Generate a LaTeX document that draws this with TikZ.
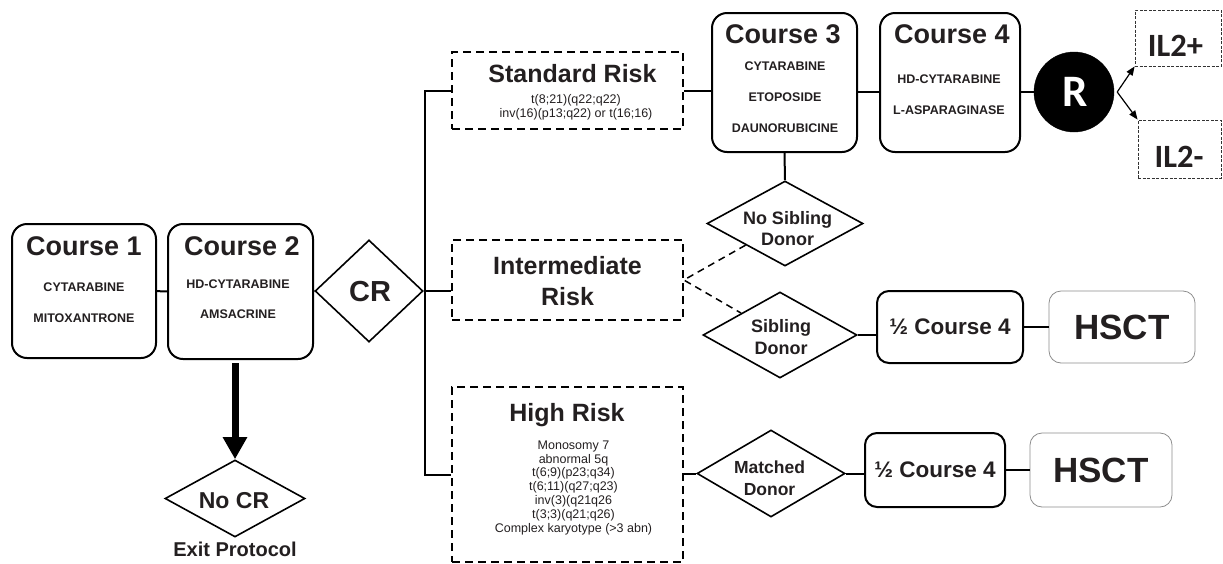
\documentclass[tikz,border=0pt]{standalone}
\usepackage{fontspec}
\setmainfont{Liberation Sans}
\newfontfamily\carfont{Carlito}
\usetikzlibrary{shapes.geometric,arrows.meta}
\definecolor{ink}{RGB}{35,31,32}
\newcommand\myTitle{\fontsize{27}{30}\selectfont\bfseries}
\newcommand\myDrug[1]{\fontsize{12.5}{#1}\selectfont\bfseries}
\newcommand\myRisk[1]{\fontsize{25}{#1}\selectfont\bfseries}
\newcommand\mySmall[1]{\fontsize{12.5}{#1}\selectfont}
\newcommand\myDia[2]{\fontsize{#1}{#2}\selectfont\bfseries}
\tikzset{
  coursebox/.style={draw=black, line width=2pt, rounded corners=15pt, inner sep=0pt},
  smallbox/.style={draw=black, line width=2pt, rounded corners=12pt, inner sep=0pt, text=ink, font=\fontsize{22.5}{26}\selectfont\bfseries},
  hsctbox/.style={draw=black!45, line width=0.8pt, rounded corners=12pt, inner sep=0pt, text=ink, font=\fontsize{35}{40}\selectfont\bfseries},
  riskbox/.style={draw=black, line width=1.7pt, dash pattern=on 8pt off 5pt, inner sep=0pt},
  ilbox/.style={draw=black!80, line width=0.8pt, dash pattern=on 3pt off 1.5pt, inner sep=0pt},
  dia/.style={diamond, draw=black, line width=1.6pt, inner sep=0pt},
  conn/.style={draw=black, line width=2pt},
  dconn/.style={draw=black, line width=1.5pt, dash pattern=on 7pt off 5pt},
  txt/.style={inner sep=0pt, text=ink, anchor=base},
  multi/.style={inner sep=0pt, text=ink, align=center},
}
\begin{document}
\begin{tikzpicture}[x=1pt,y=-1pt]
\useasboundingbox (0,0) rectangle (1223,563);
% boxes
\node[coursebox, minimum width=144pt, minimum height=134pt] (c1) at (84,291) {};
\node[coursebox, minimum width=145pt, minimum height=135pt] (c2) at (240.5,291.5) {};
\node[dia, minimum width=108pt, minimum height=102pt] (cr) at (369,291) {};
\node[riskbox, minimum width=231pt, minimum height=77pt] (sr) at (567.5,90.5) {};
\node[riskbox, minimum width=231pt, minimum height=80pt] (ir) at (567.5,280) {};
\node[riskbox, minimum width=231pt, minimum height=175pt] (hr) at (567.5,474.5) {};
\node[coursebox, minimum width=145pt, minimum height=139pt] (c3) at (784.5,82.5) {};
\node[coursebox, minimum width=140pt, minimum height=139pt] (c4) at (950,82.5) {};
\node[circle, fill=black, draw=black, minimum size=80pt, inner sep=0pt] (r) at (1074,92) {};
\node[ilbox, minimum width=86pt, minimum height=56pt] (il2p) at (1178,38) {};
\node[ilbox, minimum width=83pt, minimum height=58pt] (il2m) at (1179.5,149) {};
\node[dia, minimum width=156pt, minimum height=85pt] (nsd) at (785,223.5) {};
\node[dia, minimum width=154pt, minimum height=86pt] (sd) at (780,335) {};
\node[smallbox, minimum width=146pt, minimum height=72pt] (hc1) at (950,327) {½ Course 4};
\node[hsctbox, minimum width=146pt, minimum height=72pt] (hs1) at (1122,327) {HSCT};
\node[dia, minimum width=148pt, minimum height=87pt] (md) at (771,473.5) {};
\node[smallbox, minimum width=140pt, minimum height=74pt] (hc2) at (935,470) {½ Course 4};
\node[hsctbox, minimum width=142pt, minimum height=74pt] (hs2) at (1101,470) {HSCT};
\node[dia, minimum width=140pt, minimum height=77pt] (nocr) at (235,498.5) {};
% texts
\node[txt, font=\myTitle] (c1t) at (84,255.5) {Course 1};
\node[multi, font=\myDrug{30.6}] (c1d) at (84,302.5) {CYTARABINE\\MITOXANTRONE};
\node[txt, font=\myTitle] (c2t) at (242,255.5) {Course 2};
\node[multi, font=\myDrug{30.7}] (c2d) at (238,299.2) {HD-CYTARABINE\\AMSACRINE};
\node[txt, font=\fontsize{29}{32}\selectfont\bfseries] (crt) at (370,301.7) {CR};
\node[txt, font=\myRisk{30}] (srt) at (572.5,82.3) {Standard Risk};
\node[multi, font=\mySmall{14.6}] (srd) at (576,107.3) {t(8;21)(q22;q22)\\inv(16)(p13;q22) or t(16;16)};
\node[multi, font=\myRisk{31}] (irt) at (567.5,281.3) {Intermediate\\Risk};
\node[txt, font=\myRisk{30}] (hrt) at (567,421.5) {High Risk};
\node[multi, font=\mySmall{13.83}] (hrd) at (573.5,487.8) {Monosomy 7\\abnormal 5q\\t(6;9)(p23;q34)\\t(6;11)(q27;q23)\\inv(3)(q21q26\\t(3;3)(q21;q26)\\Complex karyotype (>3 abn)};
\node[txt, font=\myTitle] (c3t) at (783,43.9) {Course 3};
\node[multi, font=\myDrug{31.25}] (c3d) at (785,97.1) {CYTARABINE\\ETOPOSIDE\\DAUNORUBICINE};
\node[txt, font=\myTitle] (c4t) at (952,43.9) {Course 4};
\node[multi, font=\myDrug{31.3}] (c4d) at (949,94.9) {HD-CYTARABINE\\L-ASPARAGINASE};
\node[txt, text=white, font=\carfont\fontsize{45}{50}\selectfont\bfseries] (rt) at (1075.5,106.7) {R};
\node[txt, font=\carfont\fontsize{32.5}{36}\selectfont\bfseries] (il2pt) at (1175.5,56.7) {IL2+};
\node[txt, font=\carfont\fontsize{32.5}{36}\selectfont\bfseries] (il2mt) at (1179,167) {IL2-};
\node[multi, font=\myDia{18}{20.7}] (nsdt) at (787.5,228.5) {No Sibling\\Donor};
\node[multi, font=\myDia{18}{21.6}] (sdt) at (781,337) {Sibling\\Donor};
\node[multi, font=\myDia{17.5}{22}] (mdt) at (769.5,478.4) {Matched\\Donor};
\node[txt, font=\fontsize{23}{26}\selectfont\bfseries] (nocrt) at (234,508.3) {No CR};
\node[txt, font=\fontsize{20}{24}\selectfont\bfseries] (exit) at (235,556.5) {Exit Protocol};
% connectors
\draw[conn] (c1) -- (c2);
\draw[conn] (c2) -- (cr);
\draw[conn] (cr.east) -- (cr.east -| ir.west);
\draw[conn] (sr.west) -- ++(-26,0) coordinate (tt) -- (tt |- hr.west) -- (hr.west);
\draw[conn] (sr.east) -- (sr.east -| c3.west);
\draw[conn] (c3.east |- r) -- (c4.west |- r);
\draw[conn] (c4.east |- r) -- (r);
\draw[conn] (c3.south) -- (nsd.north);
\draw[dconn] (nsd.south west) -- (ir.east) -- (sd.north west);
\draw[conn] (sd.east) -- (sd.east -| hc1.west);
\draw[conn] (hc1) -- (hs1);
\draw[conn] (md.west -| hr.east) -- (md.west);
\draw[conn] (md.east) -- (md.east -| hc2.west);
\draw[conn] (hc2) -- (hs2);
\coordinate (rs) at ([xshift=3pt]r.east);
\draw[line width=1.2pt, -{Triangle[length=9pt,width=7pt]}] (rs) -- (il2p.south west);
\draw[line width=1.2pt, -{Triangle[length=9pt,width=7pt]}] (rs) -- (il2m.north west);
\coordinate (as) at ([yshift=-3pt]c2.south -| nocr.north);
\draw[line width=7pt, -{Triangle[length=22pt,width=23pt]}] (as) -- (nocr.north);
\end{tikzpicture}
\end{document}
